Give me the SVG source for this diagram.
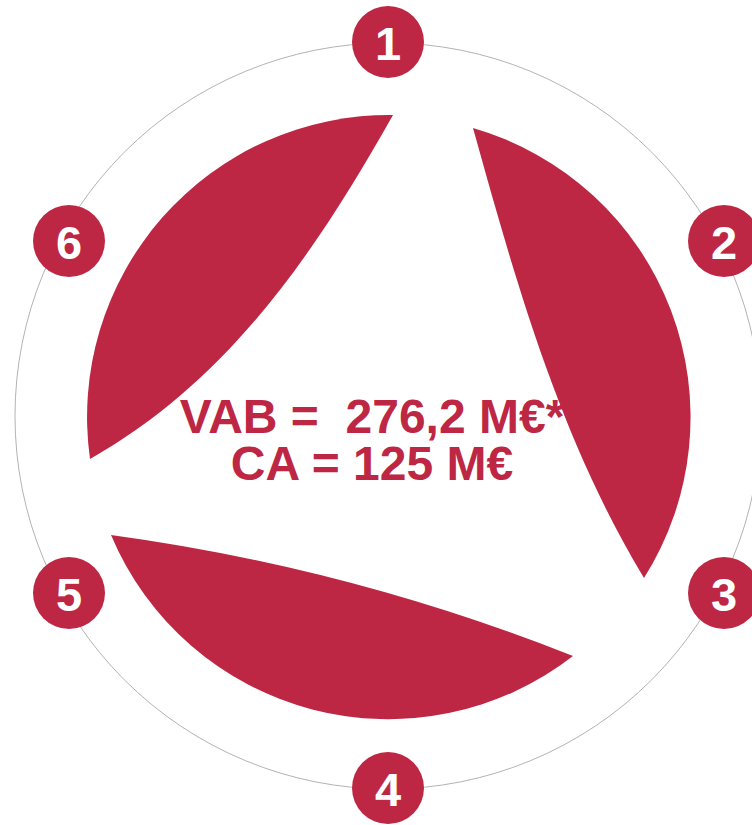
<svg xmlns="http://www.w3.org/2000/svg" width="752" height="825" viewBox="0 0 752 825">
<style>
.seg{fill:#bd2744}
.badge circle{fill:#bd2744}
.badge text{fill:#ffffff;font-family:"Liberation Sans",Arial,sans-serif;font-weight:bold;font-size:47px;text-anchor:middle}
.main{fill:#bd2744;font-family:"Liberation Sans",Arial,sans-serif;font-weight:bold;font-size:48px;text-anchor:middle}
</style>
<rect width="752" height="825" fill="#ffffff"/>
<g id="connectors">
<circle cx="388" cy="416" r="373" fill="none" stroke="#b3b3b3" stroke-width="1"/>
</g>
<g id="segment-top-left"><path class="seg" d="M393,115 C316,251 230.8,379.3 90,459 A302,302 0 0 1 393,115 Z"/></g>
<g id="segment-right"><path class="seg" d="M473,128 C516.2,283.3 559.7,438.4 644,578 A301,301 0 0 0 473,128 Z"/></g>
<g id="segment-bottom"><path class="seg" d="M111,535 Q349.3,567.5 573,656 A301,301 0 0 1 111,535 Z"/></g>
<g id="center-text">
<text class="main" x="372" y="433" xml:space="preserve">VAB =  276,2 M€*</text>
<text class="main" x="372" y="480">CA = 125 M€</text>
</g>
<g id="node-1" class="badge"><circle cx="388" cy="42" r="36"/><text x="388" y="60">1</text></g>
<g id="node-2" class="badge"><circle cx="724" cy="241" r="36"/><text x="724" y="259">2</text></g>
<g id="node-3" class="badge"><circle cx="724" cy="593" r="36"/><text x="724" y="611">3</text></g>
<g id="node-4" class="badge"><circle cx="388" cy="788" r="36"/><text x="388" y="806">4</text></g>
<g id="node-5" class="badge"><circle cx="69" cy="593" r="36"/><text x="69" y="611">5</text></g>
<g id="node-6" class="badge"><circle cx="69" cy="241" r="36"/><text x="69" y="259">6</text></g>
</svg>
